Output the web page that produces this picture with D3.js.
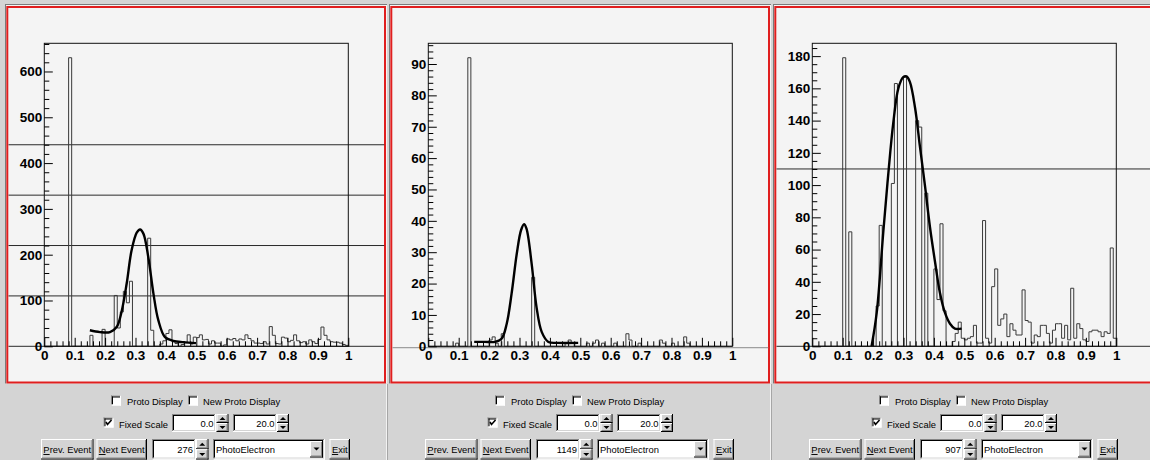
<!DOCTYPE html>
<html><head><meta charset="utf-8">
<script src="https://cdn.jsdelivr.net/npm/d3@7"></script>
<style>
html,body{margin:0;padding:0;background:#d4d4d4;overflow:hidden;}
svg{display:block;}
</style></head><body>
<svg id="c" width="1150" height="460"></svg>
<script>
// ---------------- data ----------------
const nBins = 100;
const xTickValues = [0,0.1,0.2,0.3,0.4,0.5,0.6,0.7,0.8,0.9,1];
const xTickLabels = ["0","0.1","0.2","0.3","0.4","0.5","0.6","0.7","0.8","0.9","1"];
const xMinorStep = 0.02;

const p1Counts = [0,0,0,0,0,0,0,0,630,0, 0,0,0,0,0,24,0,0,0,37, 0,0,0,111,40,75,120,95,142,0,
  0,0,0,0,236,35,0,0,5,12, 28,36,10,6,0,4,8,25,5,20, 19,25,14,15,5,12,7,7,0,3,
  16,14,17,12,16,14,25,17,12,7, 7,6,10,5,43,24,6,5,20,18, 10,13,25,12,8,10,5,14,10,6,
  15,42,24,14,10,9,9,7,4,2];
const p2Counts = [0,0,0,0,0,0,0,0,0,1, 0,0,0,92,0,0,0,0,0,0, 2,3,1,0,4,0,0,0,0,0,
  0,0,0,0,22,0,0,0,0,0, 0,0,0,0,0,1,2,1,0,0, 0,0,1,0,1,2,0,1,0,0,
  0,1,0,0,0,4,2,0,0,1, 0,0,0,0,0,0,2,1,0,0, 1,0,0,0,3,1,0,0,0,0,
  0,0,0,0,0,0,0,0,0,0];
const p3Counts = [0,0,0,0,0,0,0,0,0,0, 179,0,71,0,0,0,0,0,0,0, 0,25,75,0,0,0,101,163,0,0,
  167,0,0,0,140,136,0,95,0,0, 48,29,76,22,0,0,3,8,15,5, 4,5,6,13,2,2,78,5,2,37,
  48,13,17,20,6,14,10,7,7,35, 16,15,2,7,6,13,13,8,2,10, 14,14,5,13,4,36,5,14,11,4,
  3,9,10,10,9,6,9,8,61,5];

const p1FitX = [0.150,0.183,0.216,0.238,0.254,0.271,0.287,0.304,0.315,0.326,0.342,0.359,0.375,0.397,0.424,0.457,0.499];
const p1FitY = [35,31,31,42,75,137,209,248,255,246,195,115,57,20,12,9,7];
const p2FitX = [0.151,0.186,0.219,0.241,0.258,0.274,0.291,0.305,0.315,0.323,0.340,0.356,0.373,0.395,0.428,0.493];
const p2FitY = [1.4,1.4,1.4,2.4,7.2,16.8,29.5,37,38.9,37.5,26.3,12.5,4.6,1.4,1.1,1.1];
const p3FitX = [0.195,0.212,0.234,0.250,0.266,0.283,0.299,0.310,0.321,0.338,0.354,0.371,0.387,0.404,0.420,0.436,0.453,0.469,0.491];
const p3FitY = [0,21,72,107,138,160,167,167.4,164,148,124,99,74,52,33,21,14,11,11];

const p1YTicks = [0,100,200,300,400,500,600];
const p2YTicks = [0,10,20,30,40,50,60,70,80,90];
const p3YTicks = [0,20,40,60,80,100,120,140,160,180];
const yMinorSteps = [20, 2, 5];

const p1Lines = [0,110,220,330,440];
const p2Lines = [-0.45];
const p3Lines = [0,110];

const eventNumbers = ["276","1149","907"];
const scaleLow = "0.0", scaleHigh = "20.0";
const comboText = "PhotoElectron";

// ---------------- drawing ----------------
const svg = d3.select("#c");
const GUI_BG = "#d4d4d4";
const AX_FONT = "'Liberation Sans', Arial, Helvetica, sans-serif";
svg.append("rect").attr("width",1150).attr("height",460).attr("fill",GUI_BG);

const panels = [
  {counts:p1Counts, fx:p1FitX, fy:p1FitY, ticks:p1YTicks, lines:p1Lines},
  {counts:p2Counts, fx:p2FitX, fy:p2FitY, ticks:p2YTicks, lines:p2Lines},
  {counts:p3Counts, fx:p3FitX, fy:p3FitY, ticks:p3YTicks, lines:p3Lines}
];

function L(g,x1,y1,x2,y2,c,w){ g.append("line").attr("x1",x1).attr("y1",y1).attr("x2",x2).attr("y2",y2).attr("stroke",c).attr("stroke-width",w||1); }

panels.forEach((p,k)=>{
  const ox = 384*k;
  const g = svg.append("g");
  // canvas (sunken frame + red highlight)
  g.append("rect").attr("x",5+ox).attr("y",4.5).attr("width",382).attr("height",379).attr("fill","#f4f4f4");
  L(g,5.5+ox,4.5,5.5+ox,383.5,"#7a7a7a");
  L(g,5+ox,4.5,387+ox,4.5,"#7a7a7a");
  g.append("rect").attr("x",7.3+ox).attr("y",7).attr("width",377.7).attr("height",375.5)
    .attr("fill","none").attr("stroke","#e01e1e").attr("stroke-width",2);

  const fx0 = 44.3 + ox, fw = 304, fyTop = 43.3, fyBot = 346.3;
  const x = d3.scaleLinear().domain([0,1]).range([fx0, fx0+fw]);
  const yMax = 1.05*d3.max(p.counts);
  const y = d3.scaleLinear().domain([0,yMax]).range([fyBot, fyTop]);

  // horizontal lines across the canvas
  p.lines.forEach(v=>{
    L(g, 8.5+ox, y(v), Math.min(384.3+ox,1150), y(v), v<0 ? "#8a8a8a" : "#2a2a2a");
  });

  // histogram outline
  const edges = d3.range(nBins+1).map(i=>i/nBins);
  let d = `M${x(0)},${y(0)}`;
  p.counts.forEach((c,i)=>{ d += `L${x(edges[i])},${y(c)}L${x(edges[i+1])},${y(c)}`; });
  d += `L${x(1)},${y(0)}`;
  g.append("path").attr("d",d).attr("fill","none").attr("stroke","#3a3a3a").attr("stroke-width",1);

  // fit curve
  const pts = p.fx.map((v,i)=>[v,p.fy[i]]);
  g.append("path").attr("d", d3.line().x(q=>x(q[0])).y(q=>y(q[1])).curve(d3.curveCatmullRom.alpha(0.5))(pts))
    .attr("fill","none").attr("stroke","#000").attr("stroke-width",2.4).attr("stroke-linejoin","round");

  // frame
  g.append("rect").attr("x",fx0).attr("y",fyTop).attr("width",fw).attr("height",fyBot-fyTop)
    .attr("fill","none").attr("stroke","#111").attr("stroke-width",1);

  // axes
  const xMinor = d3.range(0, 1+1e-9, xMinorStep).filter(v=>Math.abs(v*10-Math.round(v*10))>1e-6);
  g.append("g").attr("transform",`translate(0,${fyBot})`)
    .call(d3.axisBottom(x).tickValues(xMinor).tickSize(-5).tickFormat(""))
    .call(s=>s.select(".domain").remove());
  g.append("g").attr("transform",`translate(0,${fyBot})`)
    .call(d3.axisBottom(x).tickValues(xTickValues).tickSize(-8.5).tickPadding(4).tickFormat((v,i)=>xTickLabels[i]))
    .call(s=>s.select(".domain").remove())
    .attr("font-family",AX_FONT).attr("font-size",13.5).attr("font-weight","bold");

  const step = yMinorSteps[k];
  const yMinor = d3.range(0, yMax, step).filter(v=>!p.ticks.includes(v));
  g.append("g").attr("transform",`translate(${fx0},0)`)
    .call(d3.axisLeft(y).tickValues(yMinor).tickSize(-5).tickFormat(""))
    .call(s=>s.select(".domain").remove());
  g.append("g").attr("transform",`translate(${fx0},0)`)
    .call(d3.axisLeft(y).tickValues(p.ticks).tickSize(-8.5).tickPadding(2).tickFormat(d3.format("d")))
    .call(s=>s.select(".domain").remove())
    .attr("font-family",AX_FONT).attr("font-size",13.5).attr("font-weight","bold");
});

// ---------------- GUI widgets ----------------
const GUI_FONT = "'Liberation Sans', Arial, Helvetica, sans-serif";
function text(g,x,y,s,anchor){
  return g.append("text").attr("x",x).attr("y",y).attr("font-family",GUI_FONT).attr("font-size",9.4)
    .attr("fill","#000").attr("text-anchor",anchor||"start").text(s);
}
function sunken(g,x,y,w,h){
  g.append("rect").attr("x",x).attr("y",y).attr("width",w).attr("height",h).attr("fill","#fff");
  L(g,x,y+0.5,x+w,y+0.5,"#868686"); L(g,x+0.5,y,x+0.5,y+h,"#868686");
  L(g,x+1,y+1.5,x+w-1,y+1.5,"#000"); L(g,x+1.5,y+1,x+1.5,y+h-1,"#000");
  L(g,x,y+h-0.5,x+w,y+h-0.5,"#fff"); L(g,x+w-0.5,y,x+w-0.5,y+h,"#fff");
  L(g,x+1,y+h-1.5,x+w-1,y+h-1.5,GUI_BG); L(g,x+w-1.5,y+1,x+w-1.5,y+h-1,GUI_BG);
}
function raised(g,x,y,w,h){
  g.append("rect").attr("x",x).attr("y",y).attr("width",w).attr("height",h).attr("fill",GUI_BG);
  L(g,x,y+0.5,x+w,y+0.5,"#fff"); L(g,x+0.5,y,x+0.5,y+h,"#fff");
  L(g,x,y+h-0.5,x+w,y+h-0.5,"#000"); L(g,x+w-0.5,y,x+w-0.5,y+h,"#000");
  L(g,x+1,y+h-1.5,x+w-1,y+h-1.5,"#868686"); L(g,x+w-1.5,y+1,x+w-1.5,y+h-1,"#868686");
}
function tri(g,cx,cy,up){
  const s = up ? `M${cx-3},${cy+1.5}L${cx+3},${cy+1.5}L${cx},${cy-1.5}Z` : `M${cx-3},${cy-1.5}L${cx+3},${cy-1.5}L${cx},${cy+1.5}Z`;
  g.append("path").attr("d",s).attr("fill","#000");
}
function spinner(g,x,y,w,h){
  raised(g,x,y,w,h/2); raised(g,x,y+h/2,w,h/2);
  tri(g,x+w/2,y+h/4,true); tri(g,x+w/2,y+3*h/4,false);
}
function checkbox(g,x,y,checked){
  g.append("rect").attr("x",x).attr("y",y).attr("width",10).attr("height",10).attr("fill","#fff");
  L(g,x,y+0.5,x+10,y+0.5,"#868686"); L(g,x+0.5,y,x+0.5,y+10,"#868686");
  L(g,x+1,y+1.5,x+9,y+1.5,"#000"); L(g,x+1.5,y+1,x+1.5,y+9,"#000");
  L(g,x,y+9.5,x+10,y+9.5,"#fff"); L(g,x+9.5,y,x+9.5,y+10,"#fff");
  if(checked) g.append("path").attr("d",`M${x+2.5},${y+4.5}L${x+4},${y+7}L${x+8},${y+2.5}`)
    .attr("fill","none").attr("stroke","#000").attr("stroke-width",1.6);
}
function button(g,x,y,w,h,first,rest){
  raised(g,x,y,w,h);
  const t = g.append("text").attr("x",x+w/2).attr("y",453).attr("font-family",GUI_FONT).attr("font-size",9.4)
    .attr("fill","#000").attr("text-anchor","middle");
  t.append("tspan").style("text-decoration","underline").text(first);
  t.append("tspan").text(rest);
}

eventNumbers.forEach((ev,k)=>{
  const ox = 384*k;
  const g = svg.append("g");
  // separators
  if(k>0){ L(g,ox+2.5,384,ox+2.5,460,"#f2f2f2"); L(g,ox+3.5,384,ox+3.5,460,"#a6a6a6"); }
  // row 1
  checkbox(g,111+ox,395.5,false); text(g,127+ox,404.5,"Proto Display");
  checkbox(g,188+ox,395.5,false); text(g,203+ox,404.5,"New Proto Display");
  // row 2
  checkbox(g,103.5+ox,417.5,true); text(g,119+ox,428,"Fixed Scale");
  sunken(g,172+ox,414,44,18); text(g,213.5+ox,427,scaleLow,"end"); spinner(g,216.5+ox,414,12,18);
  sunken(g,233+ox,414,44,18); text(g,274.5+ox,427,scaleHigh,"end"); spinner(g,277+ox,414,12,18);
  // row 3
  button(g,41+ox,439,52.5,20.5,"P","rev. Event");
  button(g,96.5+ox,439,50.5,20.5,"N","ext Event");
  sunken(g,152+ox,439,44,20.5); text(g,193+ox,453,ev,"end"); spinner(g,196+ox,439,12.5,20.5);
  sunken(g,213+ox,439,112,20.5); text(g,216+ox,453,comboText);
  raised(g,310+ox,441,13,16.5); tri(g,316.5+ox,449,false);
  button(g,329.5+ox,439,20.5,20.5,"E","xit");
});
</script>
</body></html>
